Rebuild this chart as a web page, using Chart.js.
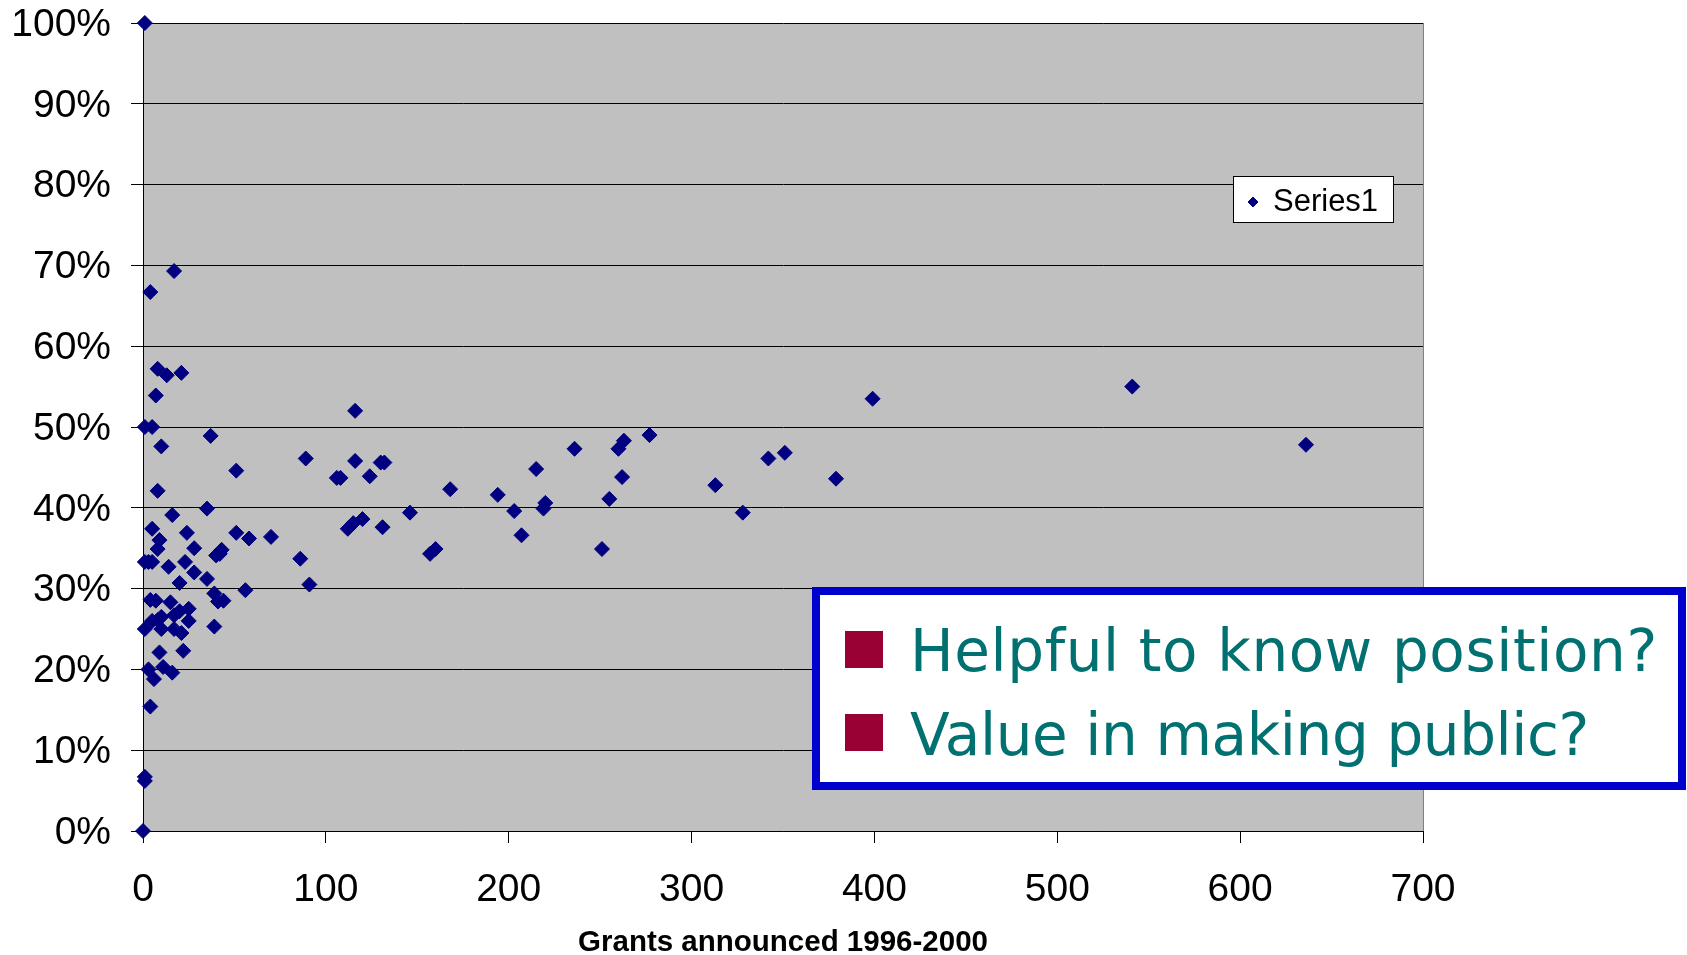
<!DOCTYPE html>
<html>
<head>
<meta charset="utf-8">
<script src="https://cdn.jsdelivr.net/npm/chart.js@4"></script>
<style>
html,body{margin:0;padding:0;background:#fff;}
#wrap{position:relative;width:1687px;height:955px;overflow:hidden;}
#c{position:absolute;left:0;top:0;}
#note{position:absolute;left:812px;top:587px;width:874px;height:203px;box-sizing:border-box;border:8px solid #0000CC;background:#fff;}
.sq{position:absolute;left:25px;width:38px;height:37px;background:#990033;}
.tx{position:absolute;left:90px;font-family:"DejaVu Sans",sans-serif;font-size:58px;color:#007070;white-space:nowrap;line-height:1;}
</style>
</head>
<body>
<div id="wrap">
<canvas id="c" width="1687" height="955"></canvas>
<div id="note">
  <div class="sq" style="top:36px"></div>
  <div class="tx" style="top:27px;letter-spacing:0.6px">Helpful to know position?</div>
  <div class="sq" style="top:119px"></div>
  <div class="tx" style="top:111px;letter-spacing:-0.4px">Value in making public?</div>
</div>
</div>
<script>
// ---- data ----
const seriesName = 'Series1';
const xAxisTitle = 'Grants announced 1996-2000';
const xTickValues = [0, 100, 200, 300, 400, 500, 600, 700];
const yTickValues = [0, 10, 20, 30, 40, 50, 60, 70, 80, 90, 100];
// grants announced (x)
const grants = [
  1, 17, 4, 8, 13, 21, 7, 1, 5, 37,
  10, 89, 51, 8, 35, 16, 5, 24, 51, 58,
  70, 9, 8, 28, 1, 3, 5, 14, 23, 43,
  42, 40, 28, 35, 20, 86, 91, 56, 39, 41,
  44, 4, 7, 15, 25, 20, 17, 10, 8, 5,
  25, 10, 1, 17, 21, 39, 9, 22, 3, 11,
  16, 6, 4, 1, 1, 0, 116, 116, 130, 132,
  106, 108, 124, 168, 194, 215, 236, 260, 263, 277,
  262, 255, 203, 220, 219, 207, 251, 146, 112, 115,
  120, 131, 157, 160, 313, 328, 342, 351, 379, 399,
  541, 636
];
// share (%) (y)
const shares = [
  100, 69.3, 66.7, 57.2, 56.4, 56.7, 53.9, 50, 50, 48.9,
  47.6, 46.1, 44.6, 42.1, 39.9, 39.1, 37.4, 36.9, 36.9, 36.2,
  36.4, 36.0, 34.9, 35.0, 33.3, 33.3, 33.3, 32.7, 33.3, 34.8,
  34.3, 34.1, 32.0, 31.2, 30.7, 33.7, 30.5, 29.8, 29.4, 28.4,
  28.5, 28.6, 28.5, 28.3, 27.5, 27.2, 26.7, 26.5, 26.1, 26.0,
  26.0, 25.0, 25.0, 25.0, 24.5, 25.3, 22.1, 22.3, 20.0, 20.3,
  19.6, 18.8, 15.4, 6.7, 6.2, 0, 52.0, 45.8, 45.6, 45.6,
  43.7, 43.7, 43.9, 42.3, 41.6, 44.8, 47.3, 47.3, 48.3, 49.0,
  43.8, 41.1, 39.6, 40.6, 39.9, 36.6, 34.9, 39.4, 37.4, 38.1,
  38.6, 37.6, 34.3, 34.9, 42.8, 39.4, 46.1, 46.8, 43.6, 53.5,
  55.0, 47.8
];
const points = grants.map((g, i) => ({x: g, y: shares[i]}));

const FONT = '"Liberation Sans", Arial, sans-serif';
Chart.defaults.font.family = FONT;

const plotBg = {
  id: 'plotBg',
  beforeDraw(chart) {
    const {ctx, chartArea: a} = chart;
    ctx.save();
    ctx.fillStyle = '#C0C0C0';
    ctx.fillRect(a.left, a.top, a.right - a.left, a.bottom - a.top);
    ctx.restore();
  },
  afterDraw(chart) {
    const {ctx, chartArea: a} = chart;
    ctx.save();
    ctx.strokeStyle = '#808080';
    ctx.lineWidth = 1;
    ctx.beginPath();
    ctx.moveTo(Math.round(a.right) + 0.5, a.top);
    ctx.lineTo(Math.round(a.right) + 0.5, a.bottom);
    ctx.stroke();
    ctx.restore();
  }
};

const legendBox = {
  id: 'legendBox',
  afterDraw(chart) {
    const {ctx, chartArea: a} = chart;
    const ds = chart.data.datasets[0];
    const x0 = Math.round(a.right - 190), y0 = Math.round(a.top + 153), w = 161, h = 47;
    ctx.save();
    ctx.fillStyle = '#fff';
    ctx.fillRect(x0, y0, w, h);
    ctx.strokeStyle = '#000';
    ctx.lineWidth = 1;
    ctx.strokeRect(x0 + 0.5, y0 + 0.5, w - 1, h - 1);
    ctx.fillStyle = ds.backgroundColor;
    ctx.strokeStyle = ds.borderColor;
    Chart.helpers.drawPoint(ctx, {pointStyle: 'rectRot', radius: 5, borderWidth: 1, rotation: 0}, x0 + 20, y0 + 26);
    ctx.fillStyle = '#000';
    ctx.font = '31px ' + FONT;
    ctx.textBaseline = 'middle';
    ctx.textAlign = 'left';
    ctx.fillText(ds.label, x0 + 40, y0 + 26);
    ctx.restore();
  }
};

new Chart(document.getElementById('c'), {
  type: 'scatter',
  data: {
    datasets: [{
      label: seriesName,
      data: points,
      pointStyle: 'rectRot',
      pointRadius: 7.5,
      pointHoverRadius: 7.5,
      backgroundColor: '#000080',
      borderColor: '#000080',
      borderWidth: 1,
      clip: false
    }]
  },
  options: {
    responsive: false,
    animation: false,
    events: [],
    layout: {padding: {left: 0, right: 264, top: 23, bottom: 0}},
    plugins: {legend: {display: false}, tooltip: {enabled: false}},
    scales: {
      x: {
        type: 'linear', min: 0, max: 700,
        afterBuildTicks: s => { s.ticks = xTickValues.map(v => ({value: v})); },
        ticks: {font: {size: 39}, color: '#000', padding: 24, maxRotation: 0, autoSkip: false},
        grid: {drawOnChartArea: false, drawTicks: true, tickLength: 12, color: '#000', tickColor: '#000'},
        border: {color: '#000', width: 1},
        title: {display: true, text: xAxisTitle, color: '#000',
                font: {size: 29.5, weight: 'bold', lineHeight: 0.85}, padding: {top: 0, bottom: 0}},
        afterFit: s => { s.height = 124; s.paddingLeft = 0; s.paddingRight = 0; }
      },
      y: {
        type: 'linear', min: 0, max: 100,
        afterBuildTicks: s => { s.ticks = yTickValues.map(v => ({value: v})); },
        ticks: {font: {size: 39}, color: '#000', padding: 20, labelOffset: 2, callback: v => v + '%', autoSkip: false},
        grid: {color: '#000', tickColor: '#000', tickLength: 12, lineWidth: 1},
        border: {color: '#000', width: 1},
        afterFit: s => { s.width = 143; s.paddingTop = 0; s.paddingBottom = 0; }
      }
    }
  },
  plugins: [plotBg, legendBox]
});
</script>
</body>
</html>
